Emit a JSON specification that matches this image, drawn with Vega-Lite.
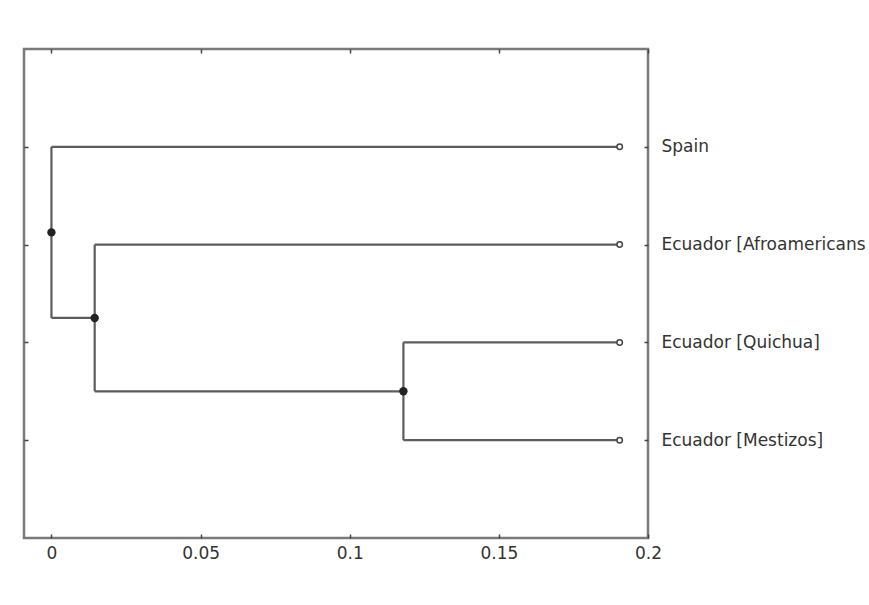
{
  "$schema": "https://vega.github.io/schema/vega-lite/v6.json",
  "width": 624,
  "height": 489,
  "autosize": {"type": "none"},
  "padding": {"left": 24, "top": 49, "right": 221, "bottom": 67},
  "background": "white",
  "config": {
    "view": {"stroke": "#7a7a7a", "strokeWidth": 2.5},
    "axis": {
      "domain": false,
      "grid": false,
      "tickSize": -4,
      "tickWidth": 1.5,
      "tickColor": "#444",
      "labelFont": "DejaVu Sans",
      "labelFontSize": 17,
      "labelColor": "#333333",
      "labelFlush": false,
      "labelOverlap": false,
      "labelLimit": 0,
      "labelBound": false,
      "title": null
    }
  },
  "datasets": {
    "segments": [
      {"x": 0, "x2": 0.1905, "y": 1, "y2": 1},
      {"x": 0, "x2": 0, "y": 1, "y2": 2.75},
      {"x": 0, "x2": 0.0145, "y": 2.75, "y2": 2.75},
      {"x": 0.0145, "x2": 0.0145, "y": 2, "y2": 3.5},
      {"x": 0.0145, "x2": 0.1905, "y": 2, "y2": 2},
      {"x": 0.0145, "x2": 0.118, "y": 3.5, "y2": 3.5},
      {"x": 0.118, "x2": 0.118, "y": 3, "y2": 4},
      {"x": 0.118, "x2": 0.1905, "y": 3, "y2": 3},
      {"x": 0.118, "x2": 0.1905, "y": 4, "y2": 4}
    ],
    "nodes": [
      {"x": 0, "y": 1.875},
      {"x": 0.0145, "y": 2.75},
      {"x": 0.118, "y": 3.5}
    ],
    "leaves": [
      {"name": "Spain", "x": 0.1905, "y": 1},
      {"name": "Ecuador [Afroamericans", "x": 0.1905, "y": 2},
      {"name": "Ecuador [Quichua]", "x": 0.1905, "y": 3},
      {"name": "Ecuador [Mestizos]", "x": 0.1905, "y": 4}
    ]
  },
  "resolve": {"axis": {"x": "independent", "y": "independent"}},
  "layer": [
    {
      "data": {"name": "segments"},
      "mark": {"type": "rule", "color": "#5c5c5c", "strokeWidth": 2.2},
      "encoding": {
        "x": {
          "field": "x", "type": "quantitative",
          "scale": {"domain": [-0.0092, 0.2], "nice": false, "zero": false},
          "axis": {"orient": "bottom", "values": [0, 0.05, 0.1, 0.15, 0.2], "format": "~g", "labelPadding": 11}
        },
        "x2": {"field": "x2"},
        "y": {
          "field": "y", "type": "quantitative",
          "scale": {"domain": [0, 5], "reverse": true, "nice": false, "zero": false},
          "axis": {
            "orient": "right",
            "values": [1, 2, 3, 4],
            "labelPadding": 17,
            "labelAlign": "left",
            "labelExpr": "datum.value == 1 ? 'Spain' : datum.value == 2 ? 'Ecuador [Afroamericans' : datum.value == 3 ? 'Ecuador [Quichua]' : 'Ecuador [Mestizos]'"
          }
        },
        "y2": {"field": "y2"}
      }
    },
    {
      "data": {"name": "nodes"},
      "mark": {"type": "point", "filled": true, "color": "#222", "size": 70, "opacity": 1},
      "encoding": {
        "x": {"field": "x", "type": "quantitative", "axis": {"orient": "top", "values": [0, 0.05, 0.1, 0.15, 0.2], "labels": false}},
        "y": {"field": "y", "type": "quantitative", "axis": {"orient": "left", "values": [1, 2, 3, 4], "labels": false}}
      }
    },
    {
      "data": {"name": "leaves"},
      "mark": {"type": "point", "filled": false, "fill": "white", "color": "#444", "strokeWidth": 1.5, "size": 30, "opacity": 1},
      "encoding": {
        "x": {"field": "x", "type": "quantitative", "axis": null},
        "y": {"field": "y", "type": "quantitative", "axis": null}
      }
    }
  ]
}
